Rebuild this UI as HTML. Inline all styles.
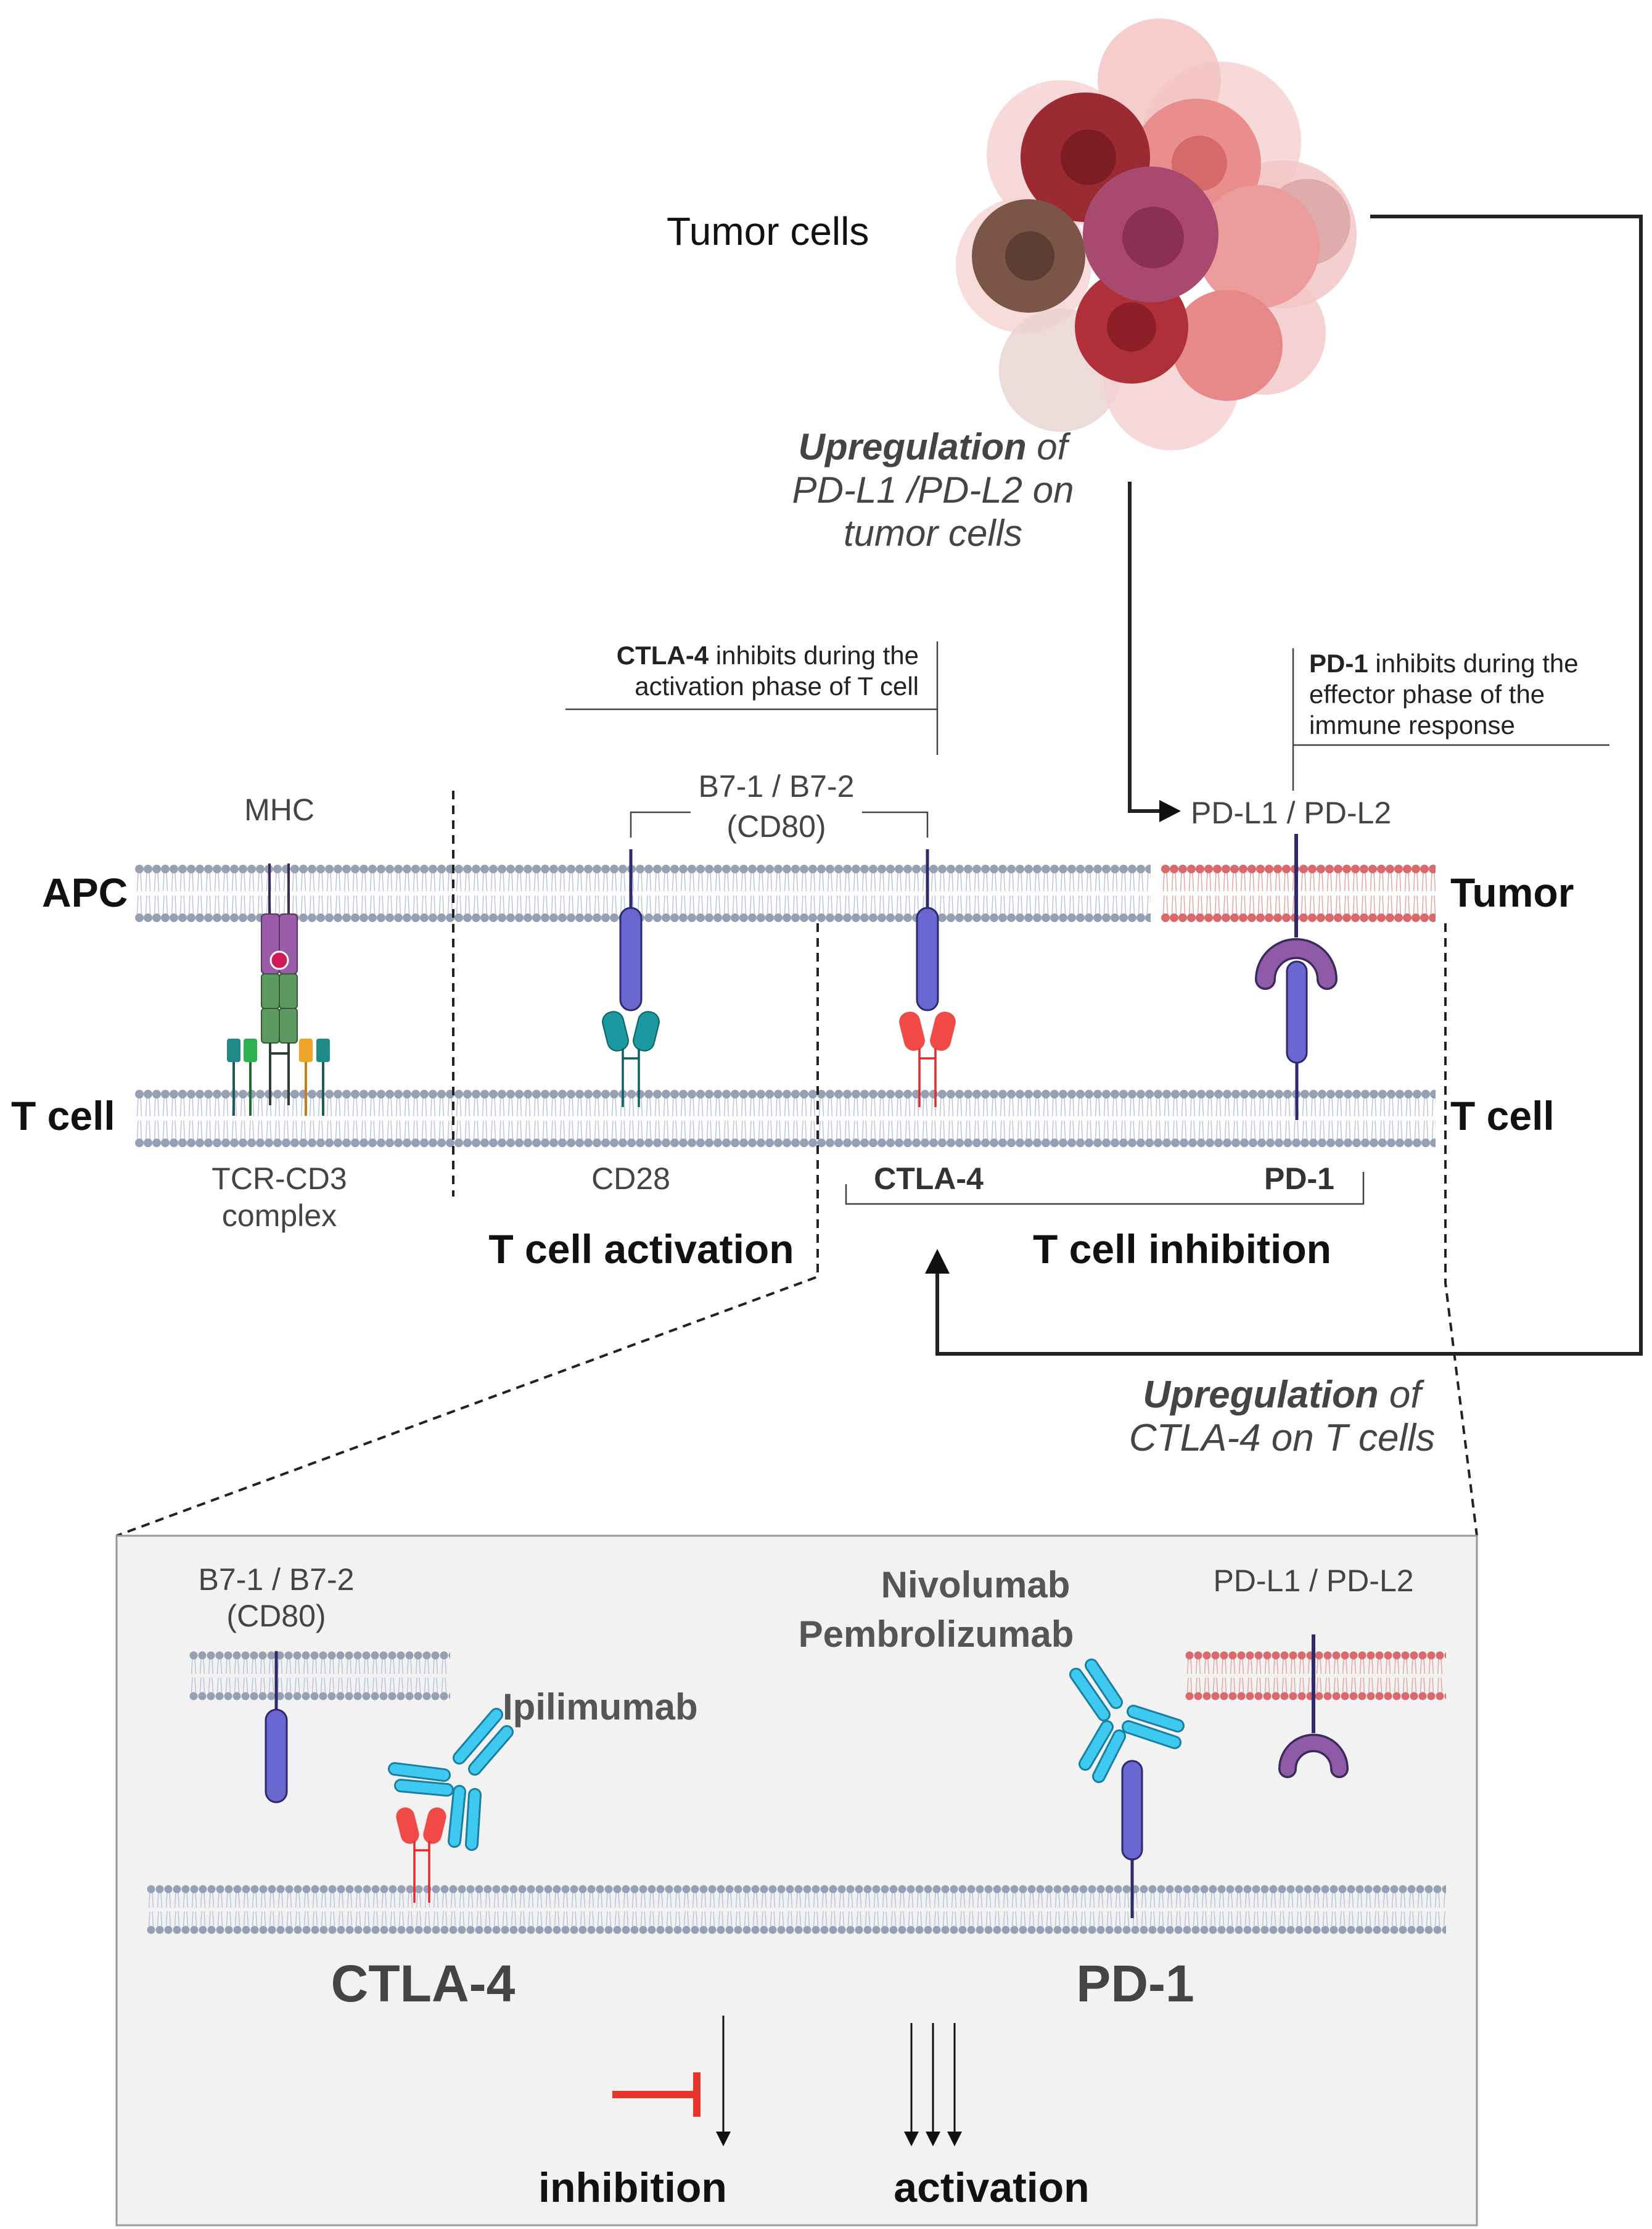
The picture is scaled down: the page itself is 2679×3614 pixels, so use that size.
<!DOCTYPE html>
<html><head><meta charset="utf-8"><style>
html,body{margin:0;padding:0;background:#fff}
svg{display:block}
text{font-family:"Liberation Sans",sans-serif}
</style></head><body>
<svg width="2679" height="3614" viewBox="0 0 2679 3614" xmlns="http://www.w3.org/2000/svg">
<defs>
<pattern id="mg" width="14" height="95" patternUnits="userSpaceOnUse">
<g stroke="#bcc5d8" stroke-width="1.5"><line x1="5" y1="14" x2="3.5" y2="44"/><line x1="9" y1="14" x2="10.5" y2="44"/><line x1="5" y1="51" x2="3.5" y2="81"/><line x1="9" y1="51" x2="10.5" y2="81"/></g>
<circle cx="7" cy="8" r="7" fill="#95a0b5"/><circle cx="7" cy="87" r="7" fill="#95a0b5"/></pattern>
<pattern id="mr" width="14" height="95" patternUnits="userSpaceOnUse">
<g stroke="#e6a4a4" stroke-width="1.5"><line x1="5" y1="14" x2="3.5" y2="44"/><line x1="9" y1="14" x2="10.5" y2="44"/><line x1="5" y1="51" x2="3.5" y2="81"/><line x1="9" y1="51" x2="10.5" y2="81"/></g>
<circle cx="7" cy="8" r="7" fill="#d9696b"/><circle cx="7" cy="87" r="7" fill="#d9696b"/></pattern>
<pattern id="mg2" width="14" height="80" patternUnits="userSpaceOnUse">
<g stroke="#bcc5d8" stroke-width="1.5"><line x1="5" y1="13" x2="3.5" y2="37"/><line x1="9" y1="13" x2="10.5" y2="37"/><line x1="5" y1="43" x2="3.5" y2="67"/><line x1="9" y1="43" x2="10.5" y2="67"/></g>
<circle cx="7" cy="7" r="6.5" fill="#95a0b5"/><circle cx="7" cy="73" r="6.5" fill="#95a0b5"/></pattern>
<pattern id="mr2" width="14" height="80" patternUnits="userSpaceOnUse">
<g stroke="#e6a4a4" stroke-width="1.5"><line x1="5" y1="13" x2="3.5" y2="37"/><line x1="9" y1="13" x2="10.5" y2="37"/><line x1="5" y1="43" x2="3.5" y2="67"/><line x1="9" y1="43" x2="10.5" y2="67"/></g>
<circle cx="7" cy="7" r="6.5" fill="#d9696b"/><circle cx="7" cy="73" r="6.5" fill="#d9696b"/></pattern>
<marker id="ah2" markerWidth="8" markerHeight="8" refX="4" refY="4" orient="auto" markerUnits="strokeWidth"><path d="M0,0 L8,4 L0,8 z" fill="#111"/></marker>
</defs>

<!-- Tumor cluster -->
<g>
<circle cx="1720" cy="250" r="120" fill="#f6cfcf" opacity="0.8"/>
<circle cx="1980" cy="230" r="130" fill="#f6cfcf" opacity="0.8"/>
<circle cx="2080" cy="380" r="120" fill="#f3c3c3" opacity="0.8"/>
<circle cx="1660" cy="430" r="110" fill="#f6d3d3" opacity="0.8"/>
<circle cx="1720" cy="600" r="100" fill="#e8d2cf" opacity="0.8"/>
<circle cx="1900" cy="620" r="110" fill="#f6d0d0" opacity="0.8"/>
<circle cx="2050" cy="540" r="100" fill="#f4c6c6" opacity="0.8"/>
<circle cx="2120" cy="360" r="70" fill="#d9a3a3" opacity="0.8"/>
<circle cx="1880" cy="130" r="100" fill="#f3c0c0" opacity="0.8"/>
<circle cx="1940" cy="265" r="105" fill="#e98d8d"/>
<circle cx="1945" cy="265" r="45" fill="#d46a6a"/>
<circle cx="2040" cy="400" r="100" fill="#ec9c9c"/>
<circle cx="1990" cy="560" r="90" fill="#e88989"/>
<circle cx="1760" cy="255" r="105" fill="#9c2a33"/>
<circle cx="1765" cy="255" r="45" fill="#7c1c25"/>
<circle cx="1668" cy="415" r="92" fill="#7b5648"/>
<circle cx="1670" cy="415" r="40" fill="#5d3d33"/>
<circle cx="1835" cy="530" r="92" fill="#b0303a"/>
<circle cx="1835" cy="530" r="40" fill="#8c1f28"/>
<circle cx="1866" cy="380" r="110" fill="#a84a70"/>
<circle cx="1870" cy="385" r="50" fill="#8c2f55"/>
</g>
<text x="1081" y="397" font-size="64" fill="#111">Tumor cells</text>

<polyline points="2222,351 2661,351 2661,2195 1520,2195 1520,2060" fill="none" stroke="#222" stroke-width="6"/>
<path d="M1520,2025 L1500,2065 L1540,2065 z" fill="#111"/>

<g font-size="60" fill="#444" text-anchor="middle" font-style="italic">
<text x="1513" y="745"><tspan font-weight="bold">Upregulation</tspan> of</text>
<text x="1513" y="815">PD-L1 /PD-L2 on</text>
<text x="1513" y="885">tumor cells</text>
</g>
<polyline points="1832,781 1832,1315 1885,1315" fill="none" stroke="#222" stroke-width="6"/>
<path d="M1915,1315 L1880,1297 L1880,1333 z" fill="#111"/>
<text x="1931" y="1335" font-size="50" fill="#444">PD-L1 / PD-L2</text>

<g font-size="42" fill="#222">
<text x="1490" y="1077" text-anchor="end"><tspan font-weight="bold">CTLA-4</tspan> inhibits during the</text>
<text x="1490" y="1127" text-anchor="end">activation phase of T cell</text>
<text x="2123" y="1090"><tspan font-weight="bold">PD-1</tspan> inhibits during the</text>
<text x="2123" y="1140">effector phase of the</text>
<text x="2123" y="1190">immune response</text>
</g>
<g stroke="#444" stroke-width="2.5" fill="none">
<line x1="917" y1="1150" x2="1520" y2="1150"/>
<line x1="1520" y1="1040" x2="1520" y2="1224"/>
<line x1="2097" y1="1208" x2="2610" y2="1208"/>
<line x1="2097" y1="1051" x2="2097" y2="1282"/>
<polyline points="1023,1358 1023,1317 1120,1317"/>
<polyline points="1398,1317 1504,1317 1504,1358"/>
<polyline points="1372,1920 1372,1952 2211,1952 2211,1900"/>
</g>
<g font-size="50" fill="#444" text-anchor="middle">
<text x="1259" y="1292">B7-1 / B7-2</text>
<text x="1259" y="1357">(CD80)</text>
<text x="453" y="1330">MHC</text>
<text x="453" y="1928">TCR-CD3</text>
<text x="453" y="1988">complex</text>
<text x="1023" y="1928">CD28</text>
</g>
<g font-size="50" fill="#333" text-anchor="middle" font-weight="bold">
<text x="1506" y="1928">CTLA-4</text>
<text x="2107" y="1928">PD-1</text>
</g>
<g font-size="66" fill="#111" text-anchor="middle" font-weight="bold">
<text x="1040" y="2048">T cell activation</text>
<text x="1917" y="2048">T cell inhibition</text>
</g>
<g font-size="62" fill="#444" text-anchor="middle" font-style="italic">
<text x="2079" y="2282"><tspan font-weight="bold">Upregulation</tspan> of</text>
<text x="2079" y="2352">CTLA-4 on T cells</text>
</g>
<g font-size="66" fill="#111" font-weight="bold">
<text x="68" y="1470">APC</text>
<text x="18" y="1832">T cell</text>
<text x="2352" y="1470">Tumor</text>
<text x="2352" y="1832">T cell</text>
</g>

<g transform="translate(219,1401)"><rect width="1647" height="95" fill="url(#mg)"/></g>
<g transform="translate(1883,1401)"><rect width="445" height="95" fill="url(#mr)"/></g>
<g transform="translate(219,1766)"><rect width="2109" height="95" fill="url(#mg)"/></g>

<g stroke="#222" stroke-width="4" stroke-dasharray="14,10" fill="none">
<line x1="735" y1="1282" x2="735" y2="1940"/>
<polyline points="1326,1497 1326,2070 189,2490"/>
<polyline points="2344,1497 2344,2080 2395,2490"/>
</g>

<g>
<line x1="437" y1="1400" x2="437" y2="1482" stroke="#3a2a55" stroke-width="4"/>
<line x1="468" y1="1400" x2="468" y2="1482" stroke="#3a2a55" stroke-width="4"/>
<rect x="424" y="1482" width="29" height="97" rx="6" fill="#9a5ba9" stroke="#5a3468" stroke-width="2"/>
<rect x="453" y="1482" width="29" height="97" rx="6" fill="#9a5ba9" stroke="#5a3468" stroke-width="2"/>
<circle cx="453" cy="1557" r="14" fill="#d01a55" stroke="#fff" stroke-width="3"/>
<rect x="424" y="1579" width="29" height="56" rx="5" fill="#5d9a62" stroke="#345a38" stroke-width="2"/>
<rect x="453" y="1579" width="29" height="56" rx="5" fill="#5d9a62" stroke="#345a38" stroke-width="2"/>
<rect x="424" y="1635" width="29" height="56" rx="5" fill="#5d9a62" stroke="#345a38" stroke-width="2"/>
<rect x="453" y="1635" width="29" height="56" rx="5" fill="#5d9a62" stroke="#345a38" stroke-width="2"/>
<g stroke="#2e3e3a" stroke-width="4"><line x1="438" y1="1691" x2="438" y2="1792"/><line x1="468" y1="1691" x2="468" y2="1792"/><line x1="438" y1="1708" x2="468" y2="1708"/></g>
<rect x="368" y="1684" width="22" height="38" rx="4" fill="#1f8a88"/><line x1="379" y1="1722" x2="379" y2="1809" stroke="#1f5a55" stroke-width="4"/>
<rect x="395" y="1684" width="22" height="38" rx="4" fill="#2fb050"/><line x1="406" y1="1722" x2="406" y2="1809" stroke="#1f6a35" stroke-width="4"/>
<rect x="485" y="1684" width="22" height="38" rx="4" fill="#f0a52a"/><line x1="496" y1="1722" x2="496" y2="1809" stroke="#c08020" stroke-width="4"/>
<rect x="513" y="1684" width="22" height="38" rx="4" fill="#1f8a88"/><line x1="524" y1="1722" x2="524" y2="1809" stroke="#1f5a55" stroke-width="4"/>
</g>

<g>
<line x1="1023" y1="1377" x2="1023" y2="1480" stroke="#2e2a6b" stroke-width="5"/>
<rect x="1006" y="1472" width="34" height="166" rx="17" fill="#6a67d0" stroke="#2e2a6b" stroke-width="3"/>
<rect x="981" y="1640" width="34" height="64" rx="16" fill="#1a9aa0" stroke="#0d5f63" stroke-width="2" transform="rotate(-14 998 1672)"/>
<rect x="1031" y="1640" width="34" height="64" rx="16" fill="#1a9aa0" stroke="#0d5f63" stroke-width="2" transform="rotate(14 1048 1672)"/>
<g stroke="#0d5f63" stroke-width="3.5"><line x1="1010" y1="1700" x2="1010" y2="1795"/><line x1="1036" y1="1700" x2="1036" y2="1795"/><line x1="1010" y1="1716" x2="1036" y2="1716"/></g>
</g>
<g>
<line x1="1504" y1="1377" x2="1504" y2="1480" stroke="#2e2a6b" stroke-width="5"/>
<rect x="1487" y="1472" width="34" height="166" rx="17" fill="#6a67d0" stroke="#2e2a6b" stroke-width="3"/>
<rect x="1462" y="1640" width="34" height="64" rx="16" fill="#f04a46" transform="rotate(-14 1479 1672)"/>
<rect x="1512" y="1640" width="34" height="64" rx="16" fill="#f04a46" transform="rotate(14 1529 1672)"/>
<g stroke="#e8282a" stroke-width="3.5"><line x1="1491" y1="1700" x2="1491" y2="1795"/><line x1="1517" y1="1700" x2="1517" y2="1795"/><line x1="1491" y1="1716" x2="1517" y2="1716"/></g>
</g>
<g>
<line x1="2102" y1="1352" x2="2102" y2="1520" stroke="#2e2a6b" stroke-width="6"/>
<path d="M2052,1588 A50,50 0 0 1 2152,1588" fill="none" stroke="#3b2a5a" stroke-width="34" stroke-linecap="round"/>
<path d="M2052,1588 A50,50 0 0 1 2152,1588" fill="none" stroke="#8f5ba8" stroke-width="27" stroke-linecap="round"/>
<rect x="2087" y="1559" width="32" height="164" rx="16" fill="#6a67d0" stroke="#2e2a6b" stroke-width="3"/>
<line x1="2103" y1="1722" x2="2103" y2="1816" stroke="#2e2a6b" stroke-width="5"/>
</g>

<rect x="189" y="2490" width="2206" height="1118" fill="#f2f2f2" stroke="#999" stroke-width="3"/>
<g font-size="50" fill="#444" text-anchor="middle">
<text x="448" y="2578">B7-1 / B7-2</text>
<text x="448" y="2637">(CD80)</text>
<text x="2130" y="2580">PD-L1 / PD-L2</text>
</g>
<g font-size="60" fill="#555" font-weight="bold">
<text x="815" y="2788">Ipilimumab</text>
<text x="1582" y="2590" text-anchor="middle">Nivolumab</text>
<text x="1518" y="2670" text-anchor="middle">Pembrolizumab</text>
</g>
<g transform="translate(307,2677)"><rect width="423" height="80" fill="url(#mg2)"/></g>
<g transform="translate(1922,2677)"><rect width="423" height="80" fill="url(#mr2)"/></g>
<g transform="translate(238,3056)"><rect width="2107" height="80" fill="url(#mg2)"/></g>

<line x1="448" y1="2677" x2="448" y2="2775" stroke="#2e2a6b" stroke-width="5"/>
<rect x="431" y="2772" width="34" height="150" rx="17" fill="#6a67d0" stroke="#2e2a6b" stroke-width="3"/>
<rect x="646" y="2930" width="30" height="60" rx="15" fill="#f04a46" transform="rotate(-14 661 2960)"/>
<rect x="690" y="2930" width="30" height="60" rx="15" fill="#f04a46" transform="rotate(14 705 2960)"/>
<g stroke="#e8282a" stroke-width="3.5"><line x1="672" y1="2985" x2="672" y2="3085"/><line x1="696" y1="2985" x2="696" y2="3085"/><line x1="672" y1="3000" x2="696" y2="3000"/></g>
<g stroke-linecap="round" fill="none">
<g stroke="#1a7fa0" stroke-width="22">
<line x1="640" y1="2868" x2="720" y2="2878"/><line x1="650" y1="2895" x2="725" y2="2902"/>
<line x1="745" y1="2850" x2="805" y2="2780"/><line x1="770" y1="2868" x2="822" y2="2808"/>
<line x1="745" y1="2905" x2="737" y2="2985"/><line x1="770" y1="2910" x2="765" y2="2990"/>
</g>
<g stroke="#3ec9f1" stroke-width="16">
<line x1="640" y1="2868" x2="720" y2="2878"/><line x1="650" y1="2895" x2="725" y2="2902"/>
<line x1="745" y1="2850" x2="805" y2="2780"/><line x1="770" y1="2868" x2="822" y2="2808"/>
<line x1="745" y1="2905" x2="737" y2="2985"/><line x1="770" y1="2910" x2="765" y2="2990"/>
</g>
</g>
<line x1="2130" y1="2650" x2="2130" y2="2810" stroke="#2e2a6b" stroke-width="6"/>
<path d="M2088,2868 A42,42 0 0 1 2172,2868" fill="none" stroke="#3b2a5a" stroke-width="30" stroke-linecap="round"/>
<path d="M2088,2868 A42,42 0 0 1 2172,2868" fill="none" stroke="#8f5ba8" stroke-width="23" stroke-linecap="round"/>
<rect x="1820" y="2855" width="32" height="160" rx="16" fill="#6a67d0" stroke="#2e2a6b" stroke-width="3"/>
<line x1="1836" y1="3013" x2="1836" y2="3110" stroke="#2e2a6b" stroke-width="5"/>
<g stroke-linecap="round" fill="none">
<g stroke="#1a7fa0" stroke-width="22">
<line x1="1745" y1="2715" x2="1790" y2="2780"/><line x1="1770" y1="2700" x2="1810" y2="2760"/>
<line x1="1830" y1="2800" x2="1905" y2="2825"/><line x1="1838" y1="2775" x2="1910" y2="2798"/>
<line x1="1795" y1="2800" x2="1760" y2="2860"/><line x1="1815" y1="2815" x2="1782" y2="2880"/>
</g>
<g stroke="#3ec9f1" stroke-width="16">
<line x1="1745" y1="2715" x2="1790" y2="2780"/><line x1="1770" y1="2700" x2="1810" y2="2760"/>
<line x1="1830" y1="2800" x2="1905" y2="2825"/><line x1="1838" y1="2775" x2="1910" y2="2798"/>
<line x1="1795" y1="2800" x2="1760" y2="2860"/><line x1="1815" y1="2815" x2="1782" y2="2880"/>
</g>
</g>
<g font-size="84" fill="#444" font-weight="bold" text-anchor="middle">
<text x="686" y="3245">CTLA-4</text>
<text x="1841" y="3245">PD-1</text>
</g>
<line x1="993" y1="3396" x2="1125" y2="3396" stroke="#e8342c" stroke-width="12"/>
<line x1="1130" y1="3360" x2="1130" y2="3432" stroke="#e8342c" stroke-width="12"/>
<g stroke="#111" stroke-width="3">
<line x1="1173" y1="3268" x2="1173" y2="3468" marker-end="url(#ah2)"/>
<line x1="1478" y1="3280" x2="1478" y2="3468" marker-end="url(#ah2)"/>
<line x1="1513" y1="3280" x2="1513" y2="3468" marker-end="url(#ah2)"/>
<line x1="1548" y1="3280" x2="1548" y2="3468" marker-end="url(#ah2)"/>
</g>
<g font-size="68" fill="#111" font-weight="bold" text-anchor="middle">
<text x="1026" y="3570">inhibition</text>
<text x="1608" y="3570">activation</text>
</g>
</svg>
</body></html>
